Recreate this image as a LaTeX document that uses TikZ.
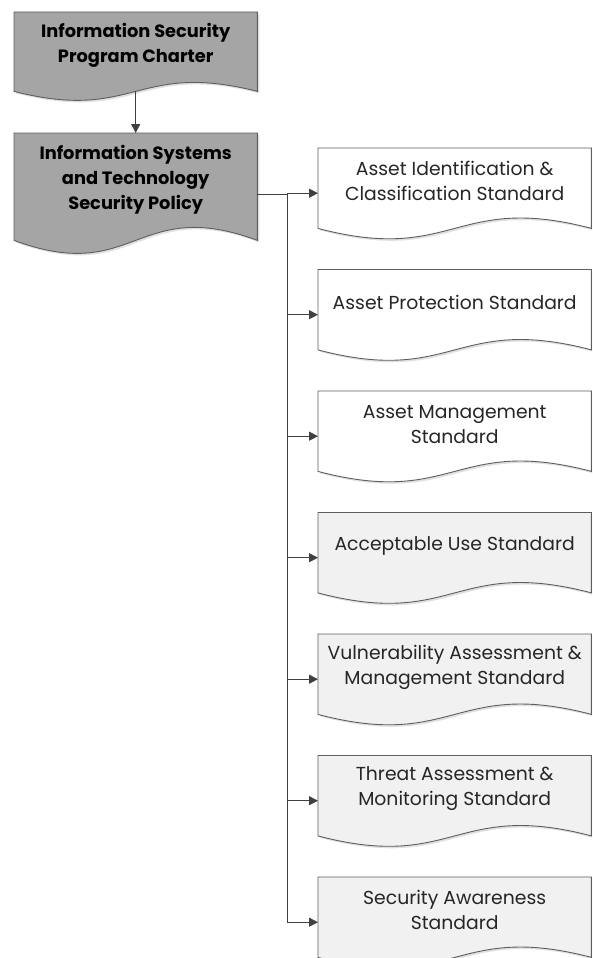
\documentclass[tikz,border=0pt]{standalone}
\usepackage{fontspec}
\setmainfont{Poppins}
\usetikzlibrary{arrows.meta,shadows}
\definecolor{grayfill}{HTML}{A5A5A5}
\definecolor{lightfill}{HTML}{F1F1F1}
\definecolor{edge}{HTML}{5E5E5E}
\definecolor{wire}{HTML}{404040}
\definecolor{txt}{HTML}{262626}
\newcommand\docwave[5]{% name, wave end below south, control offset, fill, style
  \path[#5,fill=#4] (#1.north west) -- ([yshift={-(#2)*1pt}]#1.south west)
    .. controls ([yshift={(-(#2)-(#3))*1pt}]#1.south) and ([yshift={(-(#2)+(#3))*1pt}]#1.south)
    .. ([yshift={-(#2)*1pt}]#1.south east) -- (#1.north east) -- cycle;}
\begin{document}
\begin{tikzpicture}[x=1pt,y=1pt,
  doctext/.style={inner sep=0pt, align=center, anchor=north west},
  leftbox/.style={doctext, minimum width=243pt, text=black,
    font={\fontsize{17.8}{25}\selectfont\bfseries}},
  rightbox/.style={doctext, minimum width=273pt, minimum height=66pt, text=txt,
    font={\fontsize{18.8}{25}\selectfont}},
  docedge/.style={draw=edge, line width=0.9pt,
    drop shadow={shadow xshift=2pt, shadow yshift=-2pt, opacity=0.12, fill=black}},
  arr/.style={draw=wire, line width=1.1pt, -{Triangle[length=9pt,width=9pt]}},
  wireline/.style={draw=wire, line width=1.1pt}]
\clip (0,0) rectangle (592,-958);
\useasboundingbox (0,0) rectangle (592,-958);

% left column
\node[leftbox, minimum height=67pt] (charter) at (14,-12)
  {Information Security\\Program Charter};
\docwave{charter}{12}{31}{grayfill}{docedge}
\node[leftbox, minimum height=67pt] at (14,-12)
  {Information Security\\Program Charter};

\node[leftbox, minimum height=94pt] (policy) at (14,-133)
  {Information Systems\\and Technology\\Security Policy};
\docwave{policy}{13}{45}{grayfill}{docedge}
\node[leftbox, minimum height=94pt] at (14,-133)
  {Information Systems\\and Technology\\Security Policy};

\coordinate (charterout) at ([yshift=-12pt]charter.south);
\draw[arr] (charterout) -- (policy.north);

% right column
\foreach \n/\t/\f/\txtc in {
  s1/148/white/{Asset Identification \&\\Classification Standard},
  s2/269.5/white/{Asset Protection Standard},
  s3/391/white/{Asset Management\\Standard},
  s4/512.5/lightfill/{Acceptable Use Standard},
  s5/634/lightfill/{Vulnerability Assessment \&\\Management Standard},
  s6/755.5/lightfill/{Threat Assessment \&\\Monitoring Standard},
  s7/877/lightfill/{Security Awareness\\Standard}}{
  \node[rightbox] (\n) at (318,-\t) {\txtc};
  \docwave{\n}{14}{36}{\f}{docedge}
  \node[rightbox] at (318,-\t) {\txtc};
  \coordinate (\n-in) at ([yshift=-12pt]\n.west);
}

\coordinate (policyout) at ([yshift=-14pt]policy.east);
\coordinate (bus) at ([xshift=30pt]policyout);
\draw[wireline] (policyout) -- (bus) -- (bus |- s7-in);
\foreach \n in {s1,s2,s3,s4,s5,s6,s7}
  \draw[arr] (bus |- \n-in) -- (\n-in);
\end{tikzpicture}
\end{document}
